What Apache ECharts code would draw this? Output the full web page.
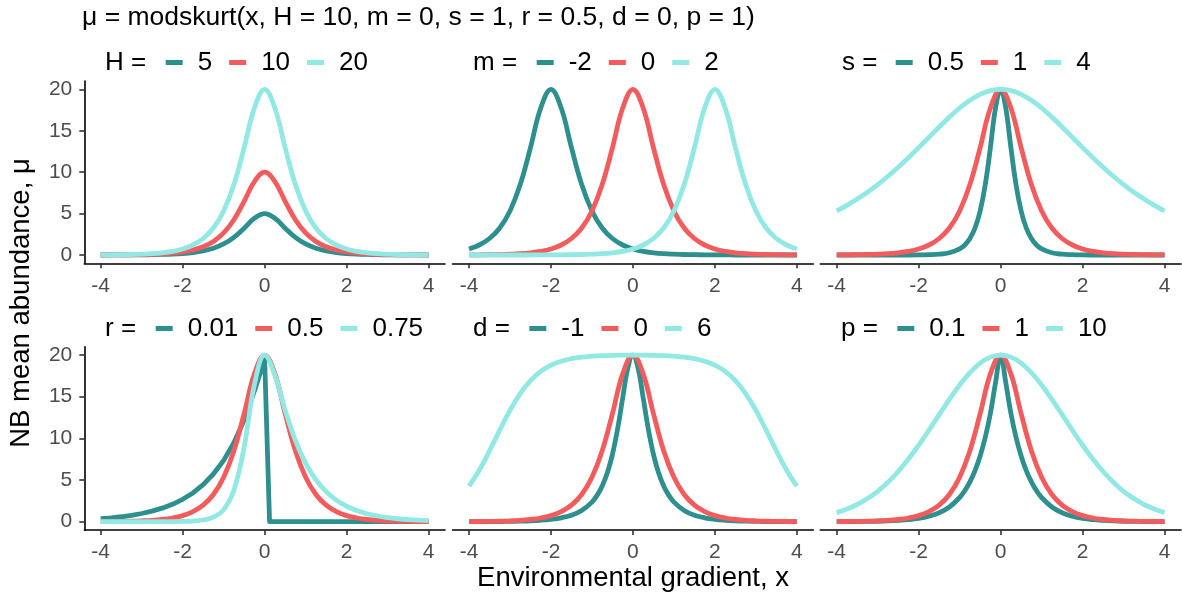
<!DOCTYPE html>
<html><head><meta charset="utf-8">
<script src="https://cdn.jsdelivr.net/npm/echarts@6/dist/echarts.min.js"></script>
<style>html,body{margin:0;padding:0;background:#fff}#c{width:1182px;height:601px}</style>
</head><body><div id="c"></div>
<script>
// ---------- data ----------
const xTicks = [-4, -2, 0, 2, 4];
const yTicks = [0, 5, 10, 15, 20];

const xs = [-4,-3.75,-3.5,-3.25,-3,-2.75,-2.5,-2.25,-2,-1.75,-1.5,-1.25,-1,-0.75,-0.5,-0.25,0,0.25,0.5,0.75,1,1.25,1.5,1.75,2,2.25,2.5,2.75,3,3.25,3.5,3.75,4];
const xFine = [-4,-3.75,-3.5,-3.25,-3,-2.75,-2.5,-2.25,-2,-1.75,-1.5,-1.25,-1,-0.875,-0.75,-0.625,-0.5,-0.375,-0.25,-0.125,0,0.125,0.25,0.375,0.5,0.625,0.75,0.875,1,1.25,1.5,1.75,2,2.25,2.5,2.75,3,3.25,3.5,3.75,4];
const xR = [-4,-3.75,-3.5,-3.25,-3,-2.75,-2.5,-2.25,-2,-1.75,-1.5,-1.25,-1,-0.75,-0.5,-0.25,0,0.12,0.25,0.5,0.75,1,1.25,1.5,1.75,2,2.25,2.5,2.75,3,3.25,3.5,3.75,4];

// panel H
const hLabels = ['5', '10', '20'];
const hFive = [0,0.01,0.01,0.02,0.02,0.04,0.07,0.11,0.18,0.30,0.50,0.82,1.33,2.13,3.24,4.43,5,4.43,3.24,2.13,1.33,0.82,0.50,0.30,0.18,0.11,0.07,0.04,0.02,0.02,0.01,0.01,0];
const hTen = [0.01,0.01,0.02,0.03,0.05,0.08,0.13,0.22,0.37,0.60,0.99,1.63,2.66,4.25,6.48,8.87,10,8.87,6.48,4.25,2.66,1.63,0.99,0.60,0.37,0.22,0.13,0.08,0.05,0.03,0.02,0.01,0.01];
const hTwenty = [0.01,0.02,0.04,0.06,0.10,0.16,0.27,0.44,0.73,1.21,1.99,3.26,5.32,8.50,12.96,17.74,20,17.74,12.96,8.50,5.32,3.26,1.99,1.21,0.73,0.44,0.27,0.16,0.10,0.06,0.04,0.02,0.01];

// panel m
const mLabels = ['-2', '0', '2'];
const mNeg2 = [0.73,1.21,1.99,3.26,5.32,8.50,12.96,17.74,20,17.74,12.96,8.50,5.32,3.26,1.99,1.21,0.73,0.44,0.27,0.16,0.10,0.06,0.04,0.02,0.01,0.01,0,0,0,0,0,0,0];
const mZero = [0.01,0.02,0.04,0.06,0.10,0.16,0.27,0.44,0.73,1.21,1.99,3.26,5.32,8.50,12.96,17.74,20,17.74,12.96,8.50,5.32,3.26,1.99,1.21,0.73,0.44,0.27,0.16,0.10,0.06,0.04,0.02,0.01];
const mPos2 = [0,0,0,0,0,0,0,0.01,0.01,0.02,0.04,0.06,0.10,0.16,0.27,0.44,0.73,1.21,1.99,3.26,5.32,8.50,12.96,17.74,20,17.74,12.96,8.50,5.32,3.26,1.99,1.21,0.73];

// panel s
const sLabels = ['0.5', '1', '4'];
const sHalf = [0,0,0,0,0,0,0,0,0.01,0.04,0.10,0.27,0.73,1.21,1.99,3.26,5.32,8.50,12.96,17.74,20,17.74,12.96,8.50,5.32,3.26,1.99,1.21,0.73,0.27,0.10,0.04,0.01,0,0,0,0,0,0,0,0];
const sOne = [0.01,0.02,0.04,0.06,0.10,0.16,0.27,0.44,0.73,1.21,1.99,3.26,5.32,8.50,12.96,17.74,20,17.74,12.96,8.50,5.32,3.26,1.99,1.21,0.73,0.44,0.27,0.16,0.10,0.06,0.04,0.02,0.01];
const sFour = [5.32,5.99,6.75,7.58,8.50,9.51,10.59,11.75,12.96,14.21,15.45,16.64,17.74,18.67,19.39,19.84,20,19.84,19.39,18.67,17.74,16.64,15.45,14.21,12.96,11.75,10.59,9.51,8.50,7.58,6.75,5.99,5.32];

// panel r
const rLabels = ['0.01', '0.5', '0.75'];
const rLow = [0.36,0.46,0.59,0.76,0.98,1.26,1.62,2.08,2.68,3.45,4.44,5.72,7.36,9.47,12.19,15.69,19.5,0,0,0,0,0,0,0,0,0,0,0,0,0,0,0,0,0];
const rMid = [0.01,0.02,0.04,0.06,0.10,0.16,0.27,0.44,0.73,1.21,1.99,3.26,5.32,8.50,12.96,17.74,20,17.74,12.96,8.50,5.32,3.26,1.99,1.21,0.73,0.44,0.27,0.16,0.10,0.06,0.04,0.02,0.01];
const rHigh = [0,0,0,0,0,0,0,0.01,0.03,0.07,0.20,0.54,1.44,3.78,8.96,16.43,20,17.57,13.38,9.75,7.02,5.03,3.61,2.59,1.85,1.33,0.95,0.68,0.49,0.35,0.25,0.18,0.13];

// panel d
const dLabels = ['-1', '0', '6'];
const dNeg1 = [0.01,0.01,0.01,0.02,0.04,0.06,0.10,0.17,0.28,0.46,0.78,1.34,2.35,3.16,4.28,5.86,8.08,11.10,14.85,18.43,20,18.43,14.85,11.10,8.08,5.86,4.28,3.16,2.35,1.34,0.78,0.46,0.28,0.17,0.10,0.06,0.04,0.02,0.01,0.01,0.01];
const dZero = [0.01,0.02,0.04,0.06,0.10,0.16,0.27,0.44,0.73,1.21,1.99,3.26,5.32,8.50,12.96,17.74,20,17.74,12.96,8.50,5.32,3.26,1.99,1.21,0.73,0.44,0.27,0.16,0.10,0.06,0.04,0.02,0.01];
const dSix = [4.26,6.18,8.49,10.98,13.36,15.38,16.93,18.03,18.78,19.26,19.56,19.75,19.86,19.93,19.97,19.99,20,19.99,19.97,19.93,19.86,19.75,19.56,19.26,18.78,18.03,16.93,15.38,13.36,10.98,8.49,6.18,4.26];

// panel p
const pLabels = ['0.1', '1', '10'];
const pTenth = [0.01,0.01,0.02,0.03,0.05,0.09,0.15,0.24,0.39,0.65,1.07,1.76,2.90,3.72,4.78,6.14,7.89,10.13,13.00,16.68,20,16.68,13.00,10.13,7.89,6.14,4.78,3.72,2.90,1.76,1.07,0.65,0.39,0.24,0.15,0.09,0.05,0.03,0.02,0.01,0.01];
const pOne = [0.01,0.02,0.04,0.06,0.10,0.16,0.27,0.44,0.73,1.21,1.99,3.26,5.32,8.50,12.96,17.74,20,17.74,12.96,8.50,5.32,3.26,1.99,1.21,0.73,0.44,0.27,0.16,0.10,0.06,0.04,0.02,0.01];
const pTen = [1.09,1.51,2.06,2.77,3.65,4.73,6.02,7.51,9.17,10.97,12.84,14.68,16.40,17.88,19.03,19.75,20,19.75,19.03,17.88,16.40,14.68,12.84,10.97,9.17,7.51,6.02,4.73,3.65,2.77,2.06,1.51,1.09];

const mainTitle = 'μ = modskurt(x, H = 10, m = 0, s = 1, r = 0.5, d = 0, p = 1)';
const xTitle = 'Environmental gradient, x';
const yTitle = 'NB mean abundance, μ';

// ---------- layout / style ----------
const panels = [
  {param: 'H', labels: hLabels, xArr: [xs, xs, xs], yArr: [hFive, hTen, hTwenty]},
  {param: 'm', labels: mLabels, xArr: [xs, xs, xs], yArr: [mNeg2, mZero, mPos2]},
  {param: 's', labels: sLabels, xArr: [xFine, xs, xs], yArr: [sHalf, sOne, sFour]},
  {param: 'r', labels: rLabels, xArr: [xR, xs, xs], yArr: [rLow, rMid, rHigh]},
  {param: 'd', labels: dLabels, xArr: [xFine, xs, xs], yArr: [dNeg1, dZero, dSix]},
  {param: 'p', labels: pLabels, xArr: [xFine, xs, xs], yArr: [pTenth, pOne, pTen]}
];
const colors = ['#2E8F8F', '#F35C5C', '#92E8E2'];
const FONT = "'Liberation Sans', Arial, sans-serif";
const colLefts = [84.3, 452.6, 820.3];
const panelW = 360.7;
const rowTops = [81, 346.7];
const rowHeights = [182.3, 183.3];
const legendCenters = [62.5, 328.5];
const keyTitleLefts = [105, 473, 842, 105, 473, 841];
const legendLefts = [165.7, 536.7, 895.7, 155.7, 529.3, 897.3];

const grids = [], xAxes = [], yAxes = [], series = [], legends = [], titles = [];

titles.push({
  text: mainTitle, left: 82, top: 4, padding: 0,
  textStyle: {fontFamily: FONT, fontSize: 26.5, fontWeight: 'normal', color: '#000', lineHeight: 27}
});

panels.forEach((p, i) => {
  const row = Math.floor(i / 3), col = i % 3;
  grids.push({left: colLefts[col], top: rowTops[row], width: panelW, height: rowHeights[row]});
  xAxes.push({
    type: 'value', gridIndex: i, min: -4.4, max: 4.4,
    splitLine: {show: false},
    axisLine: {show: true, onZero: false, lineStyle: {color: '#000', width: 1.6}},
    axisTick: {show: true, customValues: xTicks, length: 5, lineStyle: {color: '#333', width: 1.6}},
    axisLabel: {show: true, customValues: xTicks, margin: 12, color: '#4D4D4D', fontSize: 21, fontFamily: FONT}
  });
  const leftCol = col === 0;
  yAxes.push({
    type: 'value', gridIndex: i, min: -1, max: 21,
    splitLine: {show: false},
    axisLine: {show: leftCol, onZero: false, lineStyle: {color: '#000', width: 1.6}},
    axisTick: {show: leftCol, customValues: yTicks, length: 5, lineStyle: {color: '#333', width: 1.6}},
    axisLabel: {show: leftCol, customValues: yTicks, margin: 12, color: '#4D4D4D', fontSize: 21, fontFamily: FONT}
  });
  const names = [];
  p.labels.forEach((lab, k) => {
    const name = p.param + ' = ' + lab;
    names.push(name);
    series.push({
      name, type: 'line', xAxisIndex: i, yAxisIndex: i,
      data: p.xArr[k].map((x, j) => [x, p.yArr[k][j]]),
      showSymbol: false, symbol: 'none',
      smooth: (p.param === 'r' && k === 0) ? false : 0.4,
      itemStyle: {color: colors[k]},
      lineStyle: {color: colors[k], width: 4.8, cap: 'butt', join: 'round'},
      emphasis: {disabled: true},
      z: 2 + k
    });
  });
  legends.push({
    left: legendLefts[i], top: legendCenters[row] - 13, padding: 0,
    orient: 'horizontal', icon: 'rect', itemWidth: 17, itemHeight: 5, itemGap: 17,
    selectedMode: false, data: names,
    formatter: n => n.split(' = ')[1],
    textStyle: {fontFamily: FONT, fontSize: 26, color: '#000', lineHeight: 26, padding: [0, 0, 0, 10]}
  });
  titles.push({
    text: p.param + ' =', left: keyTitleLefts[i], top: legendCenters[row] - 13, padding: 0,
    textStyle: {fontFamily: FONT, fontSize: 26, fontWeight: 'normal', color: '#000', lineHeight: 26}
  });
});

const chart = echarts.init(document.getElementById('c'), null, {renderer: 'canvas'});
chart.setOption({
  animation: false,
  backgroundColor: '#fff',
  title: titles,
  legend: legends,
  grid: grids,
  xAxis: xAxes,
  yAxis: yAxes,
  series,
  graphic: [
    {type: 'text', x: 633, y: 578,
     style: {text: xTitle, font: '27.5px ' + FONT, fill: '#000', align: 'center', verticalAlign: 'middle'}},
    {type: 'text', x: 21, y: 303, rotation: Math.PI / 2,
     style: {text: yTitle, font: '27.5px ' + FONT, fill: '#000', align: 'center', verticalAlign: 'middle'}}
  ]
});
</script></body></html>
